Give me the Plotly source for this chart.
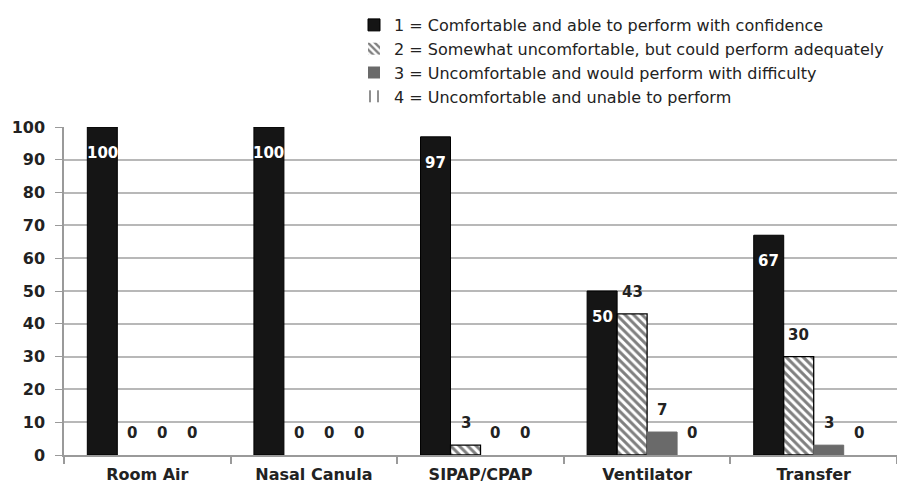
import plotly.graph_objects as go

categories = ["Room Air", "Nasal Canula", "SIPAP/CPAP", "Ventilator", "Transfer"]
series_names = [
    "1 = Comfortable and able to perform with confidence",
    "2 = Somewhat uncomfortable, but could perform adequately",
    "3 = Uncomfortable and would perform with difficulty",
    "4 = Uncomfortable and unable to perform",
]
s1 = [100, 100, 97, 50, 67]
s2 = [0, 0, 3, 43, 30]
s3 = [0, 0, 0, 7, 3]
s4 = [0, 0, 0, 0, 0]
y_ticks = [0, 10, 20, 30, 40, 50, 60, 70, 80, 90, 100]

series = [s1, s2, s3, s4]
offsets = [-0.27, -0.09, 0.09, 0.27]
bar_w = 0.18
FONT = "DejaVu Sans"
fills = [
    dict(color="#151515", lc="#000000", lw=1),
    dict(color="#ffffff", lc="#000000", lw=1.3,
         pattern=dict(shape="\\", fgcolor="#000000", bgcolor="#ffffff", size=6, solidity=0.5)),
    dict(color="#6a6a6a", lc="#6a6a6a", lw=1),
    dict(color="#ffffff", lc="#333333", lw=1,
         pattern=dict(shape="|", fgcolor="#222222", bgcolor="#ffffff", size=10, solidity=0.25)),
]

# the page body adds an 8px offset, so the figure is 8px smaller than the window
W, H = 897, 485
ML, MR, MT, MB = 56, 8, 119, 38
PW, PH = W - ML - MR, H - MT - MB

fig = go.Figure()
xs = list(range(len(categories)))
for k, (vals, name, st) in enumerate(zip(series, series_names, fills)):
    marker = dict(color=st["color"],
                  line=dict(color=st["lc"], width=[st["lw"] if v > 0 else 0 for v in vals]))
    if "pattern" in st:
        marker["pattern"] = st["pattern"]
    fig.add_trace(go.Bar(
        x=[i + offsets[k] for i in xs], y=vals, width=bar_w, name=name,
        marker=marker, hoverinfo="y",
    ))

annotations = []
for k, vals in enumerate(series):
    for i, v in enumerate(vals):
        inside = (k == 0)
        annotations.append(dict(
            x=i + offsets[k], y=v, xref="x", yref="y", text=str(v),
            showarrow=False, yanchor="middle", yshift=-26 if inside else 22,
            font=dict(family=FONT, size=15, weight="bold",
                      color="#ffffff" if inside else "#222222")))

fig.update_layout(
    width=W, height=H,
    margin=dict(l=ML, r=MR, t=MT, b=MB),
    paper_bgcolor="white", plot_bgcolor="white",
    barmode="overlay",
    showlegend=True,
    legend=dict(x=(346 - ML) / PW, xref="paper", y=1.0, yref="container",
                xanchor="left", yanchor="top",
                font=dict(family=FONT, size=16, color="#222222"),
                tracegroupgap=0, bgcolor="rgba(0,0,0,0)"),
    annotations=annotations,
    font=dict(family=FONT, color="#222222"),
)
fig.update_xaxes(
    range=[-0.5, len(categories) - 0.5], automargin=False,
    tickmode="array", tickvals=xs, ticktext=categories, ticks="",
    tickfont=dict(family=FONT, size=16, color="#222222", weight="bold"),
    ticklabelstandoff=4,
    showline=True, linecolor="#9a9a9a", linewidth=1.5, showgrid=False, zeroline=False,
    minor=dict(tickmode="array", tickvals=[i - 0.5 for i in range(len(categories) + 1)],
               ticks="outside", ticklen=7, tickcolor="#9a9a9a", tickwidth=1.5),
)
fig.update_yaxes(
    range=[0, 100], tickmode="array", tickvals=y_ticks, automargin=False,
    tickfont=dict(family=FONT, size=16, color="#222222", weight="bold"),
    showline=True, linecolor="#9a9a9a", linewidth=1.5,
    showgrid=True, gridcolor="#b8b8b8", gridwidth=1.5, zeroline=False,
    ticks="outside", ticklen=7, tickcolor="#9a9a9a", ticklabelstandoff=7,
)

fig.write_html("out.html")
